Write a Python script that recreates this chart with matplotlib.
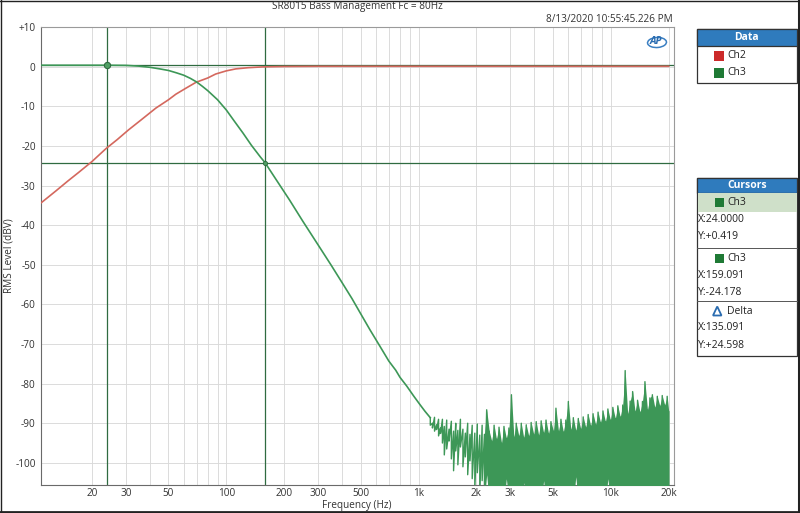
import matplotlib
matplotlib.use("Agg")
import matplotlib.pyplot as plt
from matplotlib.patches import Rectangle, Ellipse, Polygon
from matplotlib.lines import Line2D

# ---------------- data ----------------
title = "SR8015 Bass Management Fc = 80Hz"
timestamp = "8/13/2020 10:55:45.226 PM"

ch2_freq = [10.9, 13, 15, 17, 20, 23.7, 27, 31, 36, 43, 50, 54.6, 62, 69.5, 80, 88,
            100, 112, 130, 154, 200, 300, 1000, 20000]
ch2_db = [-34.3, -31.3, -28.8, -26.7, -23.9, -20.6, -18.4, -15.9, -13.4, -10.4, -8.3,
          -6.9, -5.3, -3.9, -2.8, -1.8, -1.0, -0.5, -0.2, 0.0, 0.1, 0.15, 0.15, 0.15]

ch3_freq = [10.9, 15, 20, 24, 30, 35, 40, 45, 50, 55, 60, 65, 70, 75, 80, 90, 100,
            110, 122, 135, 150, 159, 180, 213, 250, 306, 350, 400, 450, 495, 560,
            630, 700, 760, 800, 867, 945, 1020, 1080]
ch3_db = [0.42, 0.42, 0.42, 0.42, 0.38, 0.2, -0.1, -0.5, -0.9, -1.5, -2.1, -2.9, -3.8,
          -4.9, -6.0, -8.3, -10.9, -13.7, -16.7, -19.8, -22.7, -24.2, -28.2, -33.6,
          -39.0, -45.6, -50.0, -54.5, -58.5, -62.0, -66.5, -70.6, -74.3, -76.6, -78.4,
          -80.6, -83.2, -85.4, -87.0]

# noise floor of Ch3: per frequency bin, the peak (top) and trough (bottom) level
noise_freq = [1150, 1180, 1210, 1240, 1270, 1300, 1330, 1360, 1400, 1440, 1480, 1520,
              1560, 1600, 1650, 1700, 1750, 1800, 1850, 1900, 1960, 2020, 2080, 2140,
              2200, 2260, 2330, 2400, 2470, 2540, 2620, 2700, 2780, 2860, 2950, 3040,
              3130, 3220, 3320, 3420, 3520, 3630, 3740, 3850, 3970, 4090, 4210, 4340,
              4470, 4600, 4740, 4880, 5030, 5180, 5340, 5500, 5660, 5830, 6010, 6190,
              6380, 6570, 6770, 6970, 7180, 7400, 7620, 7850, 8080, 8330, 8580, 8830,
              9100, 9370, 9650, 9940, 10240, 10550, 10870, 11190, 11530, 11870, 12230,
              12600, 12980, 13360, 13770, 14180, 14600, 15040, 15500, 15960, 16440,
              16930, 17440, 17970, 18500, 19060, 19630, 20000]
noise_top = [-88.6, -90.0, -88.5, -90.4, -89.0, -91.2, -89.0, -90.8, -89.2, -91.5, -89.5,
             -92.0, -90.0, -91.8, -89.0, -91.5, -92.5, -90.0, -92.8, -90.5, -92.5, -90.2,
             -93.0, -90.5, -92.8, -86.6, -92.0, -94.5, -90.5, -94.0, -91.0, -95.0, -90.8,
             -93.8, -91.2, -82.8, -93.5, -90.0, -93.2, -90.0, -93.6, -90.4, -93.2, -89.8,
             -92.8, -89.6, -93.0, -89.4, -92.4, -89.2, -92.6, -89.6, -92.0, -86.2, -92.0,
             -89.0, -92.2, -89.2, -84.5, -91.6, -88.6, -91.8, -88.8, -91.4, -88.4, -91.0,
             -87.8, -90.6, -87.6, -90.3, -87.2, -89.8, -86.9, -89.6, -86.4, -89.2, -86.0,
             -88.8, -85.6, -88.4, -85.4, -76.7, -87.6, -84.4, -82.0, -87.0, -84.2, -87.2,
             -84.5, -79.5, -86.6, -83.6, -82.8, -86.0, -83.2, -85.6, -83.0, -85.4, -83.2,
             -87.0]
noise_bot = [-90.5, -91.2, -92.0, -91.6, -93.2, -92.6, -95.0, -98.0, -96.5, -94.5, -99.0,
             -102.0, -97.0, -100.5, -96.0, -101.0, -98.5, -103.0, -99.5, -104.0, -106.5,
             -102.5, -108.0, -104.5, -109.0, -103.0, -110.0, -107.0, -110.0, -110.0,
             -106.0, -110.0, -110.0, -104.0, -110.0, -110.0, -110.0, -108.0, -110.0,
             -110.0, -105.0, -110.0, -110.0, -110.0, -107.0, -110.0, -110.0, -110.0,
             -104.5, -110.0, -110.0, -110.0, -110.0, -110.0, -106.0, -110.0, -110.0,
             -110.0, -110.0, -110.0, -110.0, -103.5, -110.0, -110.0, -110.0, -110.0,
             -110.0, -106.0, -110.0, -110.0, -110.0, -110.0, -110.0, -110.0, -104.0,
             -110.0, -110.0, -110.0, -110.0, -110.0, -110.0, -110.0, -110.0, -110.0,
             -110.0, -107.0, -110.0, -110.0, -110.0, -110.0, -110.0, -110.0, -110.0,
             -110.0, -110.0, -110.0, -110.0, -110.0, -110.0, -110.0]
solid_from_hz = 2200   # above this frequency the noise floor reads as a solid band

cursor1 = (24.0, 0.419)
cursor2 = (159.091, -24.178)

xtick_vals = [20, 30, 50, 100, 200, 300, 500, 1000, 2000, 3000, 5000, 10000, 20000]
xtick_labels = ["20", "30", "50", "100", "200", "300", "500", "1k", "2k", "3k", "5k",
                "10k", "20k"]
xgrid_vals = [20, 30, 40, 50, 60, 70, 80, 90, 100, 200, 300, 400, 500, 600, 700, 800,
              900, 1000, 2000, 3000, 4000, 5000, 6000, 7000, 8000, 9000, 10000, 20000]
ytick_vals = [10, 0, -10, -20, -30, -40, -50, -60, -70, -80, -90, -100]
ytick_labels = ["+10", "0", "-10", "-20", "-30", "-40", "-50", "-60", "-70", "-80",
                "-90", "-100"]

legend_items = ["Ch2", "Ch3"]
cursor_rows = [("Ch3", "X:24.0000", "Y:+0.419"),
               ("Ch3", "X:159.091", "Y:-24.178"),
               ("Delta", "X:135.091", "Y:+24.598")]

# ---------------- styling ----------------
RED = "#d4685e"
GREEN = "#3d9757"
CURSOR = "#2f6b40"
BLUE = "#2f7bbd"
FONT = ["Open Sans", "DejaVu Sans"]
plt.rcParams["font.family"] = FONT
FS = 7.2

W, H = 800, 513
fig = plt.figure(figsize=(W / 100, H / 100), dpi=100)
fig.patch.set_facecolor("white")


def fx(x):
    return x / W


def fy(y):
    return 1 - y / H


L, R, T, B = 41.3, 674.0, 27.3, 485.0
ax = fig.add_axes([fx(L), fy(B), (R - L) / W, (B - T) / H])
ax.set_xscale("log")
ax.set_xlim(10.9, 21300)
ax.set_ylim(-105.6, 10)

ax.set_xticks(xtick_vals)
ax.set_xticklabels(xtick_labels)
ax.set_xticks(xgrid_vals, minor=True)
ax.set_xticklabels([], minor=True)
ax.set_yticks(ytick_vals)
ax.set_yticklabels(ytick_labels)
ax.tick_params(which="both", length=0, labelsize=FS, colors="#333333", pad=4)
ax.tick_params(axis="x", pad=2.5)
ax.grid(which="both", color="#d9d9d9", lw=0.65)
ax.set_axisbelow(True)
for s in ["left", "bottom"]:
    ax.spines[s].set_color("#6a6a6a")
for s in ["top", "right"]:
    ax.spines[s].set_color("#9a9a9a")
for s in ax.spines.values():
    s.set_linewidth(0.8)

# cursor lines
ax.axvline(cursor1[0], color=CURSOR, lw=0.9, zorder=2)
ax.axvline(cursor2[0], color=CURSOR, lw=0.9, zorder=2)
ax.axhline(cursor1[1], color=CURSOR, lw=0.9, zorder=2)
ax.axhline(cursor2[1], color=CURSOR, lw=0.9, zorder=2)

# Ch2
ax.plot(ch2_freq, ch2_db, color=RED, lw=1.2, zorder=3)

# Ch3 smooth + noise zigzag
zx, zy = [], []
for f, t, b in zip(noise_freq, noise_top, noise_bot):
    zx += [f, f]
    zy += [t, b]
ax.plot(ch3_freq + noise_freq[:1], ch3_db + noise_top[:1], color=GREEN, lw=1.2,
        zorder=4)
ax.plot(zx, zy, color=GREEN, lw=1.0, zorder=4)
k = noise_freq.index(solid_from_hz)
ax.fill_between(noise_freq[k:], noise_bot[k:], noise_top[k:], color=GREEN, lw=0, zorder=4)

# cursor markers
ax.plot([cursor1[0]], [cursor1[1]], "o", ms=4.5, mfc="#4f9f63", mec=CURSOR, mew=0.8,
        zorder=5)
ax.plot([cursor2[0]], [cursor2[1]], "o", ms=3.0, mfc="#4f9f63", mec=CURSOR, mew=0.6,
        zorder=5)

# axis labels
fig.text(fx(357), fy(505.5), "Frequency (Hz)", ha="center", va="center", fontsize=FS,
         color="#333333")
fig.text(fx(9.5), fy(256), "RMS Level (dBV)", ha="center", va="center", fontsize=FS,
         color="#333333", rotation=90)

# title / timestamp
fig.text(fx(357.5), fy(6), title, ha="center", va="center", fontsize=FS,
         color="#333333")
fig.text(fx(673), fy(19.3), timestamp, ha="right", va="center", fontsize=FS,
         color="#333333")

# AP logo
fig.patches.append(Ellipse((fx(657), fy(42.5)), 19 / W, 10 / H, transform=fig.transFigure,
                           fill=False, ec="#3a7fc2", lw=1.1, angle=10))
fig.text(fx(655.5), fy(42), "AP", ha="center", va="center", fontsize=7.5,
         style="italic", weight="bold", color="#2a6cb0")


def rect(x0, y0, x1, y1, **kw):
    fig.patches.append(Rectangle((fx(x0), fy(y1)), (x1 - x0) / W, (y1 - y0) / H,
                                 transform=fig.transFigure, **kw))


def hline(x0, x1, y, **kw):
    fig.lines.append(Line2D([fx(x0), fx(x1)], [fy(y), fy(y)], transform=fig.transFigure, **kw))


# Data legend box
rect(697, 29.3, 796.5, 83.3, facecolor="white", edgecolor="#333333", lw=0.9)
rect(697, 29.3, 796.5, 45.5, facecolor=BLUE, edgecolor="#333333", lw=0.9)
fig.text(fx(746.7), fy(37.8), "Data", ha="center", va="center", fontsize=FS + 0.3,
         weight="bold", color="white")
for i, (name, col) in enumerate(zip(legend_items, ["#cc2a2a", "#1f7a35"])):
    yc = 56 + i * 16.7
    rect(714, yc - 4.8, 723.5, yc + 4.8, facecolor=col, edgecolor="none")
    fig.text(fx(727), fy(yc), name, ha="left", va="center", fontsize=FS + 0.3,
             color="#222222")

# Cursors box
rect(697, 178.3, 797, 356, facecolor="white", edgecolor="#333333", lw=0.9)
rect(697, 178.3, 797, 192.7, facecolor=BLUE, edgecolor="#333333", lw=0.9)
fig.text(fx(747), fy(185.5), "Cursors", ha="center", va="center", fontsize=FS + 0.3,
         weight="bold", color="white")
rect(697.5, 192.7, 796.5, 211.7, facecolor="#cfe0c9", edgecolor="none")
row_tops = [192.7, 248.3, 301.0]
for (name, xs, ys), top in zip(cursor_rows, row_tops):
    yname = top + 10
    if name == "Delta":
        fig.patches.append(Polygon([(fx(713), fy(yname + 4.5)), (fx(721.5), fy(yname + 4.5)),
                                    (fx(717.25), fy(yname - 4.5))], closed=True,
                                   transform=fig.transFigure, fill=False,
                                   ec="#2a6cb0", lw=1.3))
    else:
        rect(715, yname - 4.5, 723.5, yname + 4.5, facecolor="#1f7a35", edgecolor="none")
    fig.text(fx(727), fy(yname), name, ha="left", va="center", fontsize=FS + 0.3,
             color="#222222")
    fig.text(fx(697.5), fy(top + 27), xs, ha="left", va="center", fontsize=FS + 0.3,
             color="#222222")
    fig.text(fx(697.5), fy(top + 44), ys, ha="left", va="center", fontsize=FS + 0.3,
             color="#222222")
for y in [248.3, 301.0]:
    hline(697, 797, y, color="#555555", lw=0.7)

# outer border
fig.lines.append(Line2D([0, 1], [1 - 0.5 / H, 1 - 0.5 / H], transform=fig.transFigure,
                        color="#222222", lw=1.0))
fig.lines.append(Line2D([0.5 / W, 0.5 / W], [0, 1], transform=fig.transFigure,
                        color="#222222", lw=1.0))
fig.lines.append(Line2D([0, 1], [1.2 / H, 1.2 / H], transform=fig.transFigure,
                        color="#222222", lw=2.0))
fig.lines.append(Line2D([1 - 1.4 / W, 1 - 1.4 / W], [0, 1], transform=fig.transFigure,
                        color="#222222", lw=2.2))

fig.savefig("out.png", dpi=100)
